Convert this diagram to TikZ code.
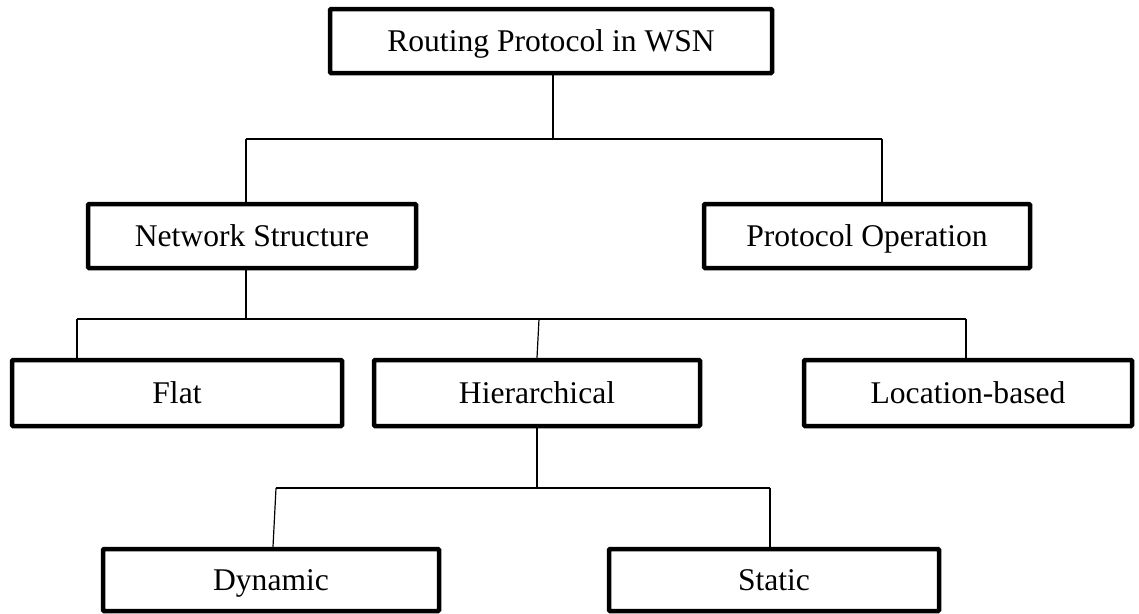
\documentclass[tikz,border=0pt]{standalone}
\usepackage{fontspec}
\setmainfont{Liberation Serif}
\begin{document}
\begin{tikzpicture}[x=1pt,y=-1pt,
  box/.style={draw=black,line width=4.5pt,rounded corners=1pt,inner sep=0pt,
    font=\fontsize{31.6}{38}\selectfont,text height=21pt,text depth=0pt,
    minimum height=64pt},
  conn/.style={draw=black,line width=1.2pt}]
\useasboundingbox (0,0) rectangle (1139,613);
\node[box,minimum width=442pt] (top) at (551,41) {Routing Protocol in WSN};
\node[box,minimum width=328pt] (ns) at (252,236) {Network Structure};
\node[box,minimum width=326pt] (po) at (867,236) {Protocol Operation};
\node[box,minimum width=330pt,minimum height=66pt] (flat) at (177,393) {Flat};
\node[box,minimum width=326pt,minimum height=66pt] (hier) at (537,393) {Hierarchical};
\node[box,minimum width=328pt,minimum height=66pt] (loc) at (968,393) {Location-based};
\node[box,minimum width=336pt,minimum height=62pt] (dyn) at (271,580) {Dynamic};
\node[box,minimum width=330pt,minimum height=62pt] (stat) at (774,580) {Static};
% level 1
\coordinate (t1) at (553,139);
\coordinate (l1) at (246,139);
\coordinate (r1) at (882,139);
\draw[conn] (top.south -| t1) -- (t1);
\draw[conn] (l1) -- (r1);
\draw[conn] (l1) -- (ns.north -| l1);
\draw[conn] (r1) -- (po.north -| r1);
% level 2
\coordinate (t2) at (246,319);
\coordinate (l2) at (77,319);
\coordinate (m2) at (539,319);
\coordinate (r2) at (966,319);
\draw[conn] (ns.south -| t2) -- (t2);
\draw[conn] (l2) -- (r2);
\draw[conn] (l2) -- (flat.north -| l2);
\draw[conn] (m2) -- (hier.north);
\draw[conn] (r2) -- (loc.north -| r2);
% level 3
\coordinate (t3) at (537,488);
\coordinate (l3) at (276,488);
\coordinate (r3) at (770,488);
\coordinate (d3) at (273,549);
\draw[conn] (hier.south) -- (t3);
\draw[conn] (l3) -- (r3);
\draw[conn] (l3) -- (dyn.north -| d3);
\draw[conn] (r3) -- (stat.north -| r3);
\end{tikzpicture}
\end{document}
